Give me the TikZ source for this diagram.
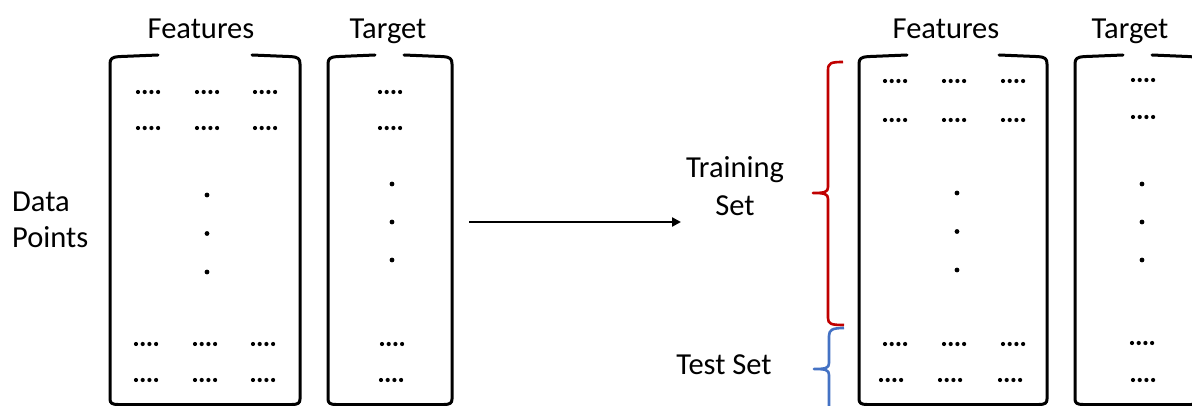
\documentclass[tikz,border=0pt]{standalone}
\usepackage{fontspec}
\setmainfont{Carlito}
\usetikzlibrary{arrows.meta}

% A column of the data table: bracket-like outline whose top edge is
% interrupted where the column title sits.
% #1 left x, #2 right x, #3 end of left top stroke, #4 start of right top stroke
\newcommand\columnframe[4]{%
  \draw[frame] (#3,55) -- (#1+9,56.6) .. controls (#1+2,57.2) and (#1,58.5) .. (#1,64)
    -- (#1,399) .. controls (#1,403) and (#1+2,404.5) .. (#1+8,404.5)
    -- (#2-8,404.5) .. controls (#2-2,404.5) and (#2,403) .. (#2,399)
    -- (#2,64) .. controls (#2,58.5) and (#2-2,57.2) .. (#2-9,56.6) -- (#4,55);
}
% four small dots in a row, centred at (#1,#2)
\newcommand\rowdots[2]{%
  \foreach \k in {0,...,3} {\fill (#1-10+\k*6.7,#2) circle (2.1);}
}
% three vertical dots at x=#1 starting at y=#2 with step #3
\newcommand\coldots[3]{%
  \foreach \k in {0,1,2} {\fill (#1,#2+\k*#3) circle (2.4);}
}

\begin{document}
\begin{tikzpicture}[x=1pt,y=-1pt,
  frame/.style={line width=3pt,line cap=round,line join=round},
  brace/.style={line width=2.6pt,line join=round},
  lbl/.style={font=\fontsize{30.5}{37}\selectfont,inner sep=0pt,anchor=base}]
\useasboundingbox (0,0) rectangle (1192,406);
\clip (0,0) rectangle (1192,406);

% ---------- full data set ----------
\node[lbl] (feat-all) at (201,39) {Features};
\node[lbl] (targ-all) at (388,39) {Target};
\node[lbl,anchor=base west] (points) at (12,212) {Data};
\node[lbl,anchor=base west] (points2) at (12,248) {Points};

\columnframe{110}{300}{158}{252}
\columnframe{328}{452}{375}{404}

\foreach \x in {148,207,265} {\rowdots{\x}{92}\rowdots{\x}{128}}
\foreach \x in {146,205,263} {\rowdots{\x}{344}\rowdots{\x}{380}}
\rowdots{390}{92}\rowdots{390}{128}\rowdots{392}{344}\rowdots{391}{380}
\coldots{207}{195}{38.5}
\coldots{392}{184}{38}

% ---------- split arrow ----------
\coordinate (split-from) at (469,222);
\coordinate (split-to) at (681,222);
\draw[line width=2.5pt,-{Triangle[length=9pt,width=9pt]}] (split-from) -- (split-to);

% ---------- split data set ----------
\node[lbl] (feat-split) at (946,39) {Features};
\node[lbl] (targ-split) at (1130,39) {Target};
\node[lbl] (train) at (735,178) {Training};
\node[lbl] (train2) at (735,216) {Set};
\node[lbl] (test) at (724,374) {Test Set};

\columnframe{859}{1047}{907}{999}
\columnframe{1075}{1199}{1123}{1152}

\foreach \x in {895,954,1013} {\rowdots{\x}{81}\rowdots{\x}{120}\rowdots{\x}{344}}
\foreach \x in {891,950,1010} {\rowdots{\x}{380}}
\rowdots{1143}{80}\rowdots{1143}{117}\rowdots{1142}{343}\rowdots{1143}{380}
\coldots{957}{193}{38.5}
\coldots{1142}{184}{38}

% training brace (red)
\draw[brace,color={rgb,255:red,192;green,0;blue,0}]
  (843,62) .. controls (831,62) and (828,63) .. (828,70)
  -- (828,187) .. controls (828,192) and (825,193) .. (813,193)
  .. controls (825,193) and (828,194) .. (828,199)
  -- (828,318) .. controls (828,324) and (831,325) .. (844,325);
% test brace (blue)
\draw[brace,color={rgb,255:red,68;green,114;blue,196}]
  (844,328) .. controls (832,328) and (829,330) .. (829,336)
  -- (829,363) .. controls (829,368) and (826,369) .. (814,369)
  .. controls (826,369) and (829,370) .. (829,375)
  -- (829,420);
\end{tikzpicture}
\end{document}
